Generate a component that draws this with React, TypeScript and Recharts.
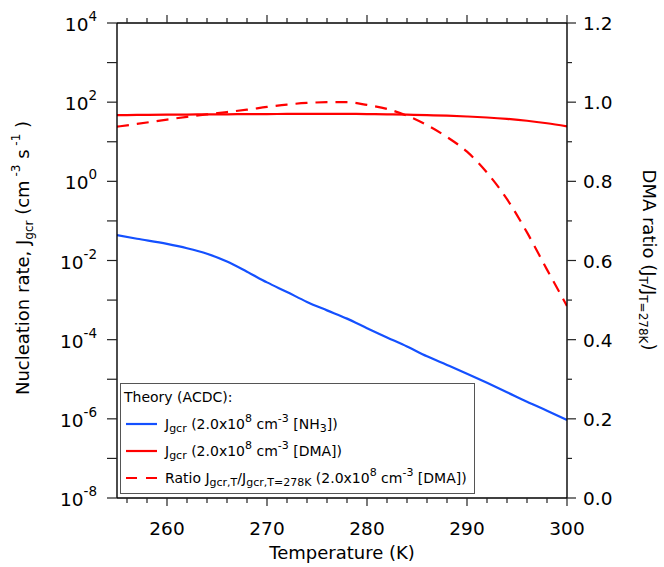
import { Line, LineChart, XAxis, YAxis } from "recharts";

// temperatures (K) at which the curves were read
const temperatures = [
  255, 257, 260, 262, 264, 266, 268, 270, 272, 274, 276, 278, 280, 282, 284, 286,
  288, 290, 292, 294, 296, 298, 300,
];
// J_gcr NH3 (cm-3 s-1)
const jNH3 = [
  0.0437, 0.0355, 0.0263, 0.0204, 0.0148, 0.0094, 0.0052, 0.0028, 0.0016,
  9.0e-4, 5.5e-4, 3.4e-4, 1.95e-4, 1.14e-4, 6.7e-5, 3.8e-5, 2.3e-5, 1.38e-5,
  8.1e-6, 4.7e-6, 2.7e-6, 1.6e-6, 9.3e-7,
];
// J_gcr DMA (cm-3 s-1)
const jDMA = [
  47.0, 47.5, 48.3, 48.7, 49.1, 49.4, 49.8, 50.1, 50.4, 50.6, 50.7, 50.5, 50.1,
  49.4, 48.3, 47.0, 45.5, 43.5, 41.0, 37.8, 33.9, 29.3, 24.5,
];
// J_T / J_T=278K (DMA)
const dmaRatio = [
  0.938, 0.945, 0.956, 0.963, 0.969, 0.975, 0.981, 0.988, 0.994, 0.998, 1.0, 1.0,
  0.993, 0.983, 0.966, 0.942, 0.912, 0.875, 0.822, 0.755, 0.671, 0.577, 0.485,
];

const tempTicks = [
  256, 258, 260, 262, 264, 266, 268, 270, 272, 274, 276, 278, 280, 282, 284, 286,
  288, 290, 292, 294, 296, 298, 300,
];
const rateTicks = [
  1e-8, 1e-7, 1e-6, 1e-5, 1e-4, 1e-3, 1e-2, 1e-1, 1, 10, 100, 1000, 10000,
];
const ratioTicks = [0, 0.1, 0.2, 0.3, 0.4, 0.5, 0.6, 0.7, 0.8, 0.9, 1.0, 1.1, 1.2];

const data = temperatures.map((t, i) => ({
  T: t,
  nh3: jNH3[i],
  dma: jDMA[i],
  ratio: dmaRatio[i],
}));

const FONT = "'DejaVu Sans', Verdana, sans-serif";
const BLUE = "#1450ff";
const RED = "#ff0000";
const TICK = "#222";

function BottomTick(props: any) {
  const { x, y, payload } = props;
  const major = payload.value % 10 === 0;
  return (
    <g>
      <line x1={x} x2={x} y1={y} y2={y + (major ? 8 : 5)} stroke={TICK} strokeWidth={1.2} />
      {major && (
        <text x={x} y={y + 37} textAnchor="middle" fontSize={18.5} fontFamily={FONT} fill="#000">
          {payload.value}
        </text>
      )}
    </g>
  );
}

function TopTick(props: any) {
  const { x, y, payload } = props;
  const major = payload.value % 10 === 0;
  return <line x1={x} x2={x} y1={y} y2={y - (major ? 8 : 5)} stroke={TICK} strokeWidth={1.2} />;
}

function LeftTick(props: any) {
  const { x, y, payload } = props;
  const exp = Math.round(Math.log10(payload.value));
  return (
    <g>
      <line x1={x} x2={x - 10} y1={y} y2={y} stroke={TICK} strokeWidth={1.2} />
      {exp % 2 === 0 && (
        <text x={x - 20} y={y + 8} textAnchor="end" fontSize={18.5} fontFamily={FONT} fill="#000">
          10
          <tspan fontSize={13.5} dy={-10}>
            {exp}
          </tspan>
        </text>
      )}
    </g>
  );
}

function RightTick(props: any) {
  const { x, y, payload } = props;
  const major = Math.round(payload.value * 10) % 2 === 0;
  return (
    <g>
      <line x1={x} x2={x + (major ? 9 : 5)} y1={y} y2={y} stroke={TICK} strokeWidth={1.2} />
      {major && (
        <text x={x + 16} y={y + 7} textAnchor="start" fontSize={18.5} fontFamily={FONT} fill="#000">
          {payload.value.toFixed(1)}
        </text>
      )}
    </g>
  );
}

function BottomTitle() {
  return (
    <text x={342} y={559} textAnchor="middle" fontSize={18} fontFamily={FONT} fill="#000">
      Temperature (K)
    </text>
  );
}

function LeftTitle() {
  return (
    <text
      x={29}
      y={258}
      transform="rotate(-90 29 258)"
      textAnchor="middle"
      fontSize={18}
      fontFamily={FONT}
      fill="#000"
    >
      Nucleation rate, J
      <tspan fontSize={12} dy={4}>gcr</tspan>
      <tspan dy={-4}> (cm</tspan>
      <tspan fontSize={12} dy={-9}> -3</tspan>
      <tspan dy={9}> s</tspan>
      <tspan fontSize={12} dy={-9}> -1</tspan>
      <tspan dy={9}> )</tspan>
    </text>
  );
}

function RightTitle() {
  return (
    <text
      x={643}
      y={260}
      transform="rotate(90 643 260)"
      textAnchor="middle"
      fontSize={18}
      fontFamily={FONT}
      fill="#000"
    >
      DMA ratio (J
      <tspan fontSize={12} dy={4}>T</tspan>
      <tspan dy={-4}>/J</tspan>
      <tspan fontSize={12} dy={4}>T=278K</tspan>
      <tspan dy={-4}>)</tspan>
    </text>
  );
}

const sub = { fontSize: 11, verticalAlign: "-3px", lineHeight: 0 } as const;
const sup = { fontSize: 11, verticalAlign: "7px", lineHeight: 0 } as const;

function Swatch({ color, dashed }: { color: string; dashed?: boolean }) {
  return (
    <svg width={32} height={6} style={{ marginRight: 7, flex: "none" }}>
      <line
        x1={0}
        x2={31}
        y1={3}
        y2={3}
        stroke={color}
        strokeWidth={2.2}
        strokeDasharray={dashed ? "11 9" : undefined}
      />
    </svg>
  );
}

function LegendBox() {
  const row = (top: number) =>
    ({
      position: "absolute",
      left: 5,
      top: top - 10,
      height: 20,
      display: "flex",
      alignItems: "center",
      whiteSpace: "nowrap",
    }) as const;
  return (
    <div
      style={{
        position: "absolute",
        left: 120,
        top: 383,
        width: 355,
        height: 111,
        boxSizing: "border-box",
        border: "1.5px solid #555",
        background: "#fff",
        fontFamily: FONT,
        fontSize: 14,
        color: "#000",
      }}
    >
      <div style={{ ...row(13), left: 3 }}>Theory (ACDC):</div>
      <div style={row(40)}>
        <Swatch color={BLUE} />
        <span>
          J<span style={sub}>gcr</span> (2.0x10<span style={sup}>8</span> cm
          <span style={sup}>-3</span> [NH<span style={sub}>3</span>])
        </span>
      </div>
      <div style={row(67)}>
        <Swatch color={RED} />
        <span>
          J<span style={sub}>gcr</span> (2.0x10<span style={sup}>8</span> cm
          <span style={sup}>-3</span> [DMA])
        </span>
      </div>
      <div style={row(94)}>
        <Swatch color={RED} dashed />
        <span>
          Ratio J<span style={sub}>gcr,T</span>/J<span style={sub}>gcr,T=278K</span> (2.0x10
          <span style={sup}>8</span> cm<span style={sup}>-3</span> [DMA])
        </span>
      </div>
    </div>
  );
}

export default function App() {
  return (
    <div
      style={{
        position: "absolute",
        left: 0,
        top: 0,
        width: 664,
        height: 567,
        background: "#fff",
      }}
    >
      <LineChart width={664} height={567} data={data} margin={{ top: 0, right: 0, bottom: 0, left: 0 }}>
        <XAxis
          dataKey="T"
          type="number"
          domain={[255, 300]}
          allowDataOverflow
          ticks={tempTicks}
          interval={0}
          height={69}
          tickSize={0}
          tickMargin={0}
          tickLine={false}
          tick={<BottomTick />}
          axisLine={{ stroke: "#000", strokeWidth: 1.4 }}
          label={<BottomTitle />}
        />
        <XAxis
          xAxisId="top"
          orientation="top"
          dataKey="T"
          type="number"
          domain={[255, 300]}
          allowDataOverflow
          ticks={tempTicks}
          interval={0}
          height={23}
          tickSize={0}
          tickMargin={0}
          tickLine={false}
          tick={<TopTick />}
          axisLine={{ stroke: "#000", strokeWidth: 1.4 }}
        />
        <YAxis
          yAxisId="left"
          type="number"
          scale="log"
          domain={[1e-8, 1e4]}
          allowDataOverflow
          ticks={rateTicks}
          interval={0}
          width={117}
          tickSize={0}
          tickMargin={0}
          tickLine={false}
          tick={<LeftTick />}
          axisLine={{ stroke: "#000", strokeWidth: 1.4 }}
          label={<LeftTitle />}
        />
        <YAxis
          yAxisId="right"
          orientation="right"
          type="number"
          domain={[0, 1.2]}
          allowDataOverflow
          ticks={ratioTicks}
          interval={0}
          width={97}
          tickSize={0}
          tickMargin={0}
          tickLine={false}
          tick={<RightTick />}
          axisLine={{ stroke: "#000", strokeWidth: 1.4 }}
          label={<RightTitle />}
        />
        <Line
          yAxisId="left"
          dataKey="nh3"
          type="monotone"
          stroke={BLUE}
          strokeWidth={2.2}
          dot={false}
          isAnimationActive={false}
        />
        <Line
          yAxisId="left"
          dataKey="dma"
          type="monotone"
          stroke={RED}
          strokeWidth={2.2}
          dot={false}
          isAnimationActive={false}
        />
        <Line
          yAxisId="right"
          dataKey="ratio"
          type="monotone"
          stroke={RED}
          strokeWidth={2.2}
          strokeDasharray="12 8"
          dot={false}
          isAnimationActive={false}
        />
      </LineChart>
      <LegendBox />
    </div>
  );
}
